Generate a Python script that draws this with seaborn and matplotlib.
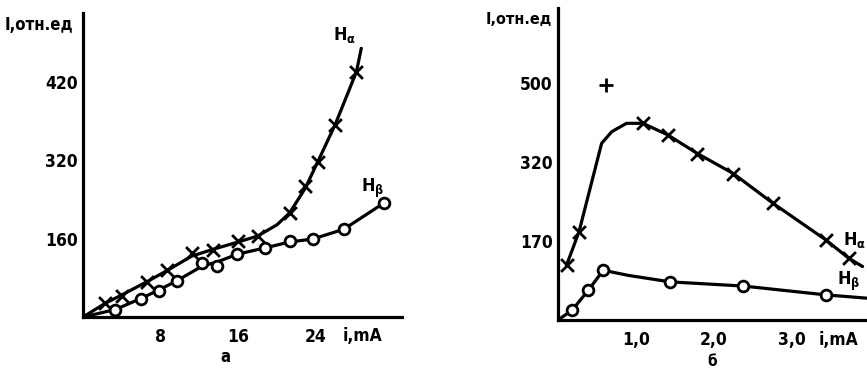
import matplotlib
matplotlib.use("Agg")
import matplotlib.pyplot as plt
import seaborn as sns

# ---------------- data ----------------
# panel а (left): I (rel. units) vs i (mA)
a_alpha_x = [2.3, 4.0, 6.6, 8.7, 11.2, 13.4, 16.0, 18.0, 21.3, 22.9, 24.2, 26.0, 28.2]
a_alpha_y = [29, 43, 72, 95, 130, 137, 156, 165, 212, 267, 316, 392, 500]
a_alpha_curve_x = [0, 2.3, 4.0, 6.6, 8.7, 11.2, 13.4, 16.0, 18.0, 20.0, 21.3, 22.9, 24.2, 26.0, 28.2, 28.7]
a_alpha_curve_y = [0, 28, 45, 72, 95, 124, 138, 153, 165, 188, 212, 262, 316, 392, 500, 548]

a_beta_x = [3.3, 6.0, 7.8, 9.7, 12.3, 13.8, 15.9, 18.8, 21.3, 23.7, 26.9, 31.0]
a_beta_y = [14, 36, 54, 73, 110, 104, 128, 140, 154, 159, 179, 232]
a_beta_curve_x = [0, 3.3, 6.0, 7.8, 9.7, 12.3, 13.8, 15.9, 18.8, 21.3, 23.7, 26.9, 31.0]
a_beta_curve_y = [0, 15, 38, 55, 74, 104, 112, 128, 141, 153, 159, 179, 232]

a_xticks = [8, 16, 24]
a_xticklabels = ["8", "16", "24"]
a_yticks = [160, 320, 480]
a_yticklabels = ["160", "320", "420"]

# panel б (right)
b_alpha_x = [0.11, 0.27, 1.09, 1.41, 1.79, 2.25, 2.76, 3.44, 3.73]
b_alpha_y = [118, 190, 423, 398, 358, 315, 251, 172, 133]
b_alpha_out_x = [0.62]
b_alpha_out_y = [505]
b_alpha_curve_x = [0.11, 0.27, 0.56, 0.69, 0.88, 1.09, 1.41, 1.79, 2.25, 2.76, 3.44, 3.73, 3.91]
b_alpha_curve_y = [118, 190, 380, 405, 423, 423, 398, 358, 315, 251, 172, 133, 115]

b_beta_x = [0.18, 0.39, 0.58, 1.44, 2.38, 3.44]
b_beta_y = [21, 64, 107, 82, 73, 54]
b_beta_curve_x = [0, 0.18, 0.39, 0.58, 0.9, 1.44, 2.38, 3.44, 3.96]
b_beta_curve_y = [0, 21, 64, 107, 96, 82, 73, 54, 47]

b_xticks = [1.0, 2.0, 3.0]
b_xticklabels = ["1,0", "2,0", "3,0"]
b_yticks = [170, 340, 510]
b_yticklabels = ["170", "320", "500"]

# ---------------- style ----------------
sns.set_theme(style="white")
FONT = ["DejaVu Sans"]
plt.rcParams["font.family"] = FONT
plt.rcParams["font.weight"] = "bold"
plt.rcParams["font.stretch"] = "condensed"

W, H = 867, 368
fig = plt.figure(figsize=(W / 100, H / 100), dpi=100)
fig.patch.set_facecolor("white")


def px_axes(x0, x1, y0, y1):
    return fig.add_axes([x0 / W, 1 - y1 / H, (x1 - x0) / W, (y1 - y0) / H])


axA = px_axes(83, 402, 13, 317)
axB = px_axes(558, 866.5, 8, 320)

LW = 2.3
TS = 12.5
for ax in (axA, axB):
    ax.set_facecolor("white")
    for s in ("top", "right"):
        ax.spines[s].set_visible(False)
    for s in ("left", "bottom"):
        ax.spines[s].set_color("black")
        ax.spines[s].set_linewidth(LW)
    ax.tick_params(axis="y", direction="in", length=5, width=2, color="black",
                   labelsize=TS, pad=4, labelcolor="black")
    ax.tick_params(axis="x", length=0, labelsize=TS, pad=8, labelcolor="black")


def draw(ax, cx, cy, px, py, marker):
    sns.lineplot(x=cx, y=cy, ax=ax, color="black", lw=LW, sort=False,
                 estimator=None)
    if marker == "o":
        sns.scatterplot(x=px, y=py, ax=ax, marker="o", s=60, facecolor="white",
                        edgecolor="black", linewidth=2, zorder=3)
    else:
        sns.scatterplot(x=px, y=py, ax=ax, marker="x", s=85, color="black",
                        linewidth=2, zorder=3)


draw(axA, a_alpha_curve_x, a_alpha_curve_y, a_alpha_x, a_alpha_y, "x")
draw(axA, a_beta_curve_x, a_beta_curve_y, a_beta_x, a_beta_y, "o")
axA.set_xlim(0, 32.9)
axA.set_ylim(0, 620)
axA.set_xticks(a_xticks)
axA.set_xticklabels(a_xticklabels)
axA.set_yticks(a_yticks)
axA.set_yticklabels(a_yticklabels)

draw(axB, b_alpha_curve_x, b_alpha_curve_y, b_alpha_x, b_alpha_y, "x")
sns.scatterplot(x=b_alpha_out_x, y=b_alpha_out_y, ax=axB, marker="+", s=110,
                color="black", linewidth=2, zorder=3)
draw(axB, b_beta_curve_x, b_beta_curve_y, b_beta_x, b_beta_y, "o")
axB.set_xlim(0, 3.96)
axB.set_ylim(0, 671)
axB.set_xticks(b_xticks)
axB.set_xticklabels(b_xticklabels)
axB.set_yticks(b_yticks)
axB.set_yticklabels(b_yticklabels)

for ax in (axA, axB):
    for lab in ax.get_xticklabels() + ax.get_yticklabels():
        lab.set_fontweight("bold")
    ax.set_xlabel("")
    ax.set_ylabel("")


def ftext(x, y, s, size=12, ha="center"):
    fig.text(x / W, 1 - y / H, s, ha=ha, va="center", fontsize=size,
             fontweight="bold", color="black")


ftext(5, 25, "I,отн.ед", size=12, ha="left")
ftext(552, 20, "I,отн.ед", size=11.5, ha="right")
ftext(362, 336, "i,mA", size=12.5)
ftext(838, 340, "i,mA", size=12.5)
ftext(225, 357, "а", size=12)
ftext(712, 361, "б", size=11)

mt = dict(fontsize=13, color="black", ha="center", va="center")
axA.text(27.0, 575, r"$\mathbf{H_{\alpha}}$", **mt)
axA.text(29.9, 263, r"$\mathbf{H_{\beta}}$", **mt)
axB.text(3.80, 172, r"$\mathbf{H_{\alpha}}$", **mt)
axB.text(3.73, 82, r"$\mathbf{H_{\beta}}$", **mt)

fig.savefig("out.png", dpi=100, facecolor="white")
